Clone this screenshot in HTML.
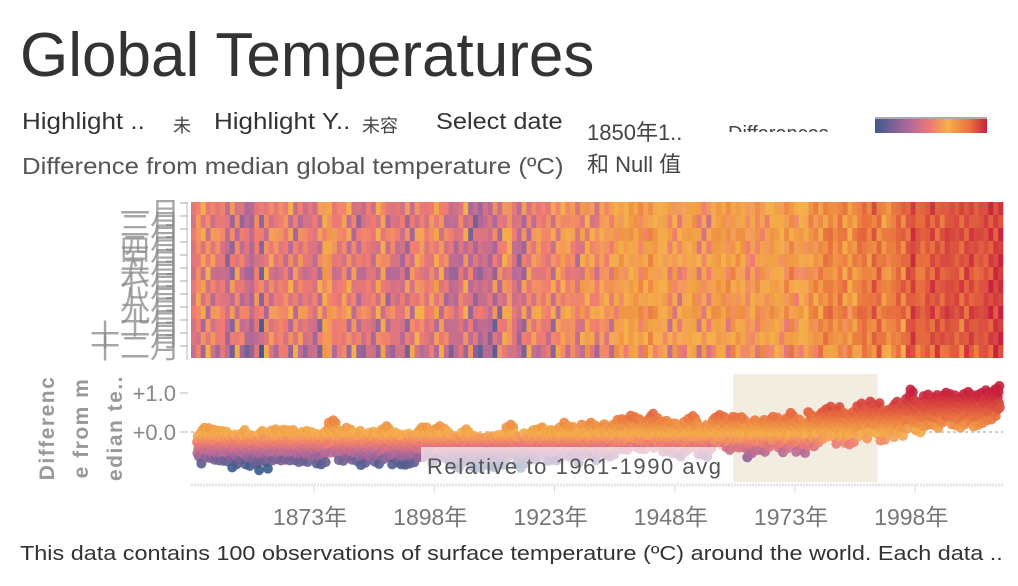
<!DOCTYPE html>
<html><head><meta charset="utf-8">
<style>
body{margin:0;width:1018px;height:586px;background:#fff;overflow:hidden;font-family:"Liberation Sans","Noto Sans CJK SC",sans-serif;position:relative}
.t{position:absolute;white-space:nowrap}
</style></head><body>
<div class="t" style="left:20px;top:20px;font-size:62px;color:#333">Global Temperatures</div>
<div class="t" style="left:22px;top:108px;font-size:23px;color:#333;transform:scaleX(1.13);transform-origin:left">Highlight ..</div>
<div class="t" style="left:173px;top:112px;font-size:18px;color:#444">未</div>
<div class="t" style="left:214px;top:108px;font-size:23px;color:#333;transform:scaleX(1.13);transform-origin:left">Highlight Y..</div>
<div class="t" style="left:362px;top:112px;font-size:18px;color:#444">未容</div>
<div class="t" style="left:436px;top:108px;font-size:23px;color:#333;transform:scaleX(1.1);transform-origin:left">Select date</div>
<div class="t" style="left:587px;top:115px;font-size:22px;color:#444">1850年1..</div>
<div class="t" style="left:587px;top:147px;font-size:22px;color:#444">和 Null 值</div>
<div class="t" style="left:728px;top:124px;height:8px;overflow:hidden;font-size:20px;color:#444"><div style="margin-top:-1px">Differences</div></div>
<div style="position:absolute;left:875px;top:117px;width:112px;height:14px;border-top:2px solid #aaa;background:linear-gradient(90deg,#3b5a8c,#b0689c 30%,#f07b72 50%,#f5b04a 65%,#e8703f 85%,#c8203f)"></div>
<div class="t" style="left:22px;top:153px;font-size:23px;color:#555;transform:scaleX(1.12);transform-origin:left">Difference from median global temperature (ºC)</div>
<svg id="svg" width="1018" height="586" style="position:absolute;left:0;top:0"></svg>
<div class="t" style="left:20px;top:543px;font-size:20px;color:#333;transform:scaleX(1.17);transform-origin:left">This data contains 100 observations of surface temperature (ºC) around the world. Each data ..</div>
<script>
const startYear=1850;
const annual=[-0.37,-0.22,-0.23,-0.27,-0.29,-0.30,-0.32,-0.47,-0.39,-0.28,
-0.39,-0.43,-0.54,-0.30,-0.50,-0.29,-0.26,-0.29,-0.27,-0.29,
-0.28,-0.33,-0.30,-0.33,-0.37,-0.39,-0.33,-0.09,-0.03,-0.28,
-0.30,-0.22,-0.27,-0.30,-0.41,-0.35,-0.32,-0.38,-0.26,-0.18,
-0.39,-0.34,-0.39,-0.40,-0.37,-0.34,-0.21,-0.21,-0.36,-0.25,
-0.18,-0.24,-0.35,-0.43,-0.48,-0.34,-0.26,-0.44,-0.48,-0.48,
-0.44,-0.47,-0.41,-0.40,-0.21,-0.14,-0.39,-0.48,-0.36,-0.28,
-0.26,-0.21,-0.30,-0.28,-0.29,-0.21,-0.09,-0.20,-0.20,-0.35,
-0.14,-0.09,-0.16,-0.29,-0.13,-0.19,-0.14,-0.02,0.00,-0.02,
0.09,0.05,0.00,0.00,0.14,0.03,-0.07,-0.04,-0.11,-0.11,
-0.19,-0.07,0.01,0.08,-0.13,-0.15,-0.20,0.04,0.11,0.06,
-0.02,0.06,0.04,0.05,-0.21,-0.11,-0.03,-0.02,-0.07,0.06,
0.04,-0.08,0.02,0.16,-0.07,-0.01,-0.10,0.18,0.07,0.17,
0.26,0.32,0.14,0.31,0.16,0.12,0.18,0.33,0.40,0.27,
0.45,0.41,0.22,0.24,0.31,0.45,0.34,0.52,0.76,0.48,
0.43,0.59,0.63,0.62,0.54,0.68,0.64,0.61,0.55,0.64,
0.70,0.58,0.62,0.67,0.74,0.76,0.85];
const months=["一月","二月","三月","四月","五月","六月","七月","八月","九月","十月","十一月","十二月"];
const monthOffset=[0.05,-0.08,0.12,-0.03,0.02,-0.12,0.08,-0.05,0.15,-0.1,0.0,-0.2];
const yTicks=[1.0,0.0];
const yTickLabels=["+1.0","+0.0"];
const xTicks=[1873,1898,1923,1948,1973,1998];
const hlStart=1961,hlEnd=1991;

const svg=document.getElementById('svg');const NS='http://www.w3.org/2000/svg';
function mk(t,a,p){const e=document.createElementNS(NS,t);for(const k in a)e.setAttribute(k,a[k]);(p||svg).appendChild(e);return e;}
const xS=y=>310+(y-1873)*4.81;
const yS=v=>432-v*39;
const hx=i=>191+i*812/annual.length;
const stops=[[-0.9,[59,90,140]],[-0.55,[176,104,156]],[-0.3,[240,123,114]],[-0.05,[245,176,74]],[0.4,[232,112,63]],[1.0,[200,32,63]]];
function col(v){if(v<=stops[0][0])return 'rgb('+stops[0][1]+')';for(let i=1;i<stops.length;i++){if(v<=stops[i][0]){const a=stops[i-1],b=stops[i],t=(v-a[0])/(b[0]-a[0]);return 'rgb('+a[1].map((c,j)=>Math.round(c+(b[1][j]-c)*t)).join(',')+')';}}return 'rgb('+stops[stops.length-1][1]+')';}
const hm=mk('g',{});


const cw=812/annual.length;
annual.forEach((a,i)=>{months.forEach((m,j)=>{const v=a+monthOffset[j]*((i%3)-1+0.5)+monthOffset[(j+i)%12];
const r=mk('rect',{x:hx(i),y:202+j*13,width:cw+0.3,height:13,fill:col(v)},hm);

});});
months.forEach((m,j)=>{const t=mk('text',{x:180,y:224+j*12.2,'font-size':30,fill:'#888','text-anchor':'end','fill-opacity':0.75});t.textContent=m;


mk('line',{x1:180,x2:188,y1:203+j*13,y2:203+j*13,stroke:'#aaa'});});
mk('line',{x1:187,x2:187,y1:202,y2:360,stroke:'#bbb'});
const band=mk('rect',{x:xS(hlStart),y:374,width:xS(hlEnd)-xS(hlStart),height:108,fill:'#f3ece0'});


const zl=mk('line',{x1:191,x2:1003,y1:yS(0),y2:yS(0),stroke:'#bbb','stroke-dasharray':'3,3','stroke-width':1.5});


yTicks.forEach((v,i)=>{const t=mk('text',{x:176,y:yS(v)+8,'font-size':22,fill:'#888','text-anchor':'end'});t.textContent=yTickLabels[i];


mk('line',{x1:180,x2:188,y1:yS(v),y2:yS(v),stroke:'#ddd','stroke-width':2});});
const pts=mk('g',{});


annual.forEach((a,i)=>{const yr=startYear+i;months.forEach((m,j)=>{const v=a+monthOffset[(j+i)%12]*2.2;
const c=mk('circle',{cx:xS(yr+j/12-0.5),cy:yS(v),r:5,fill:col(v),opacity:0.9},pts);

});});
mk('rect',{x:421,y:447,width:301,height:36,fill:'#fff','fill-opacity':0.65});
const ann=mk('text',{x:427,y:474,'font-size':22,fill:'#555',textLength:294});ann.textContent='Relative to 1961-1990 avg';


mk('line',{x1:191,x2:1003,y1:485,y2:485,stroke:'#e4e4e4','stroke-width':3,'stroke-dasharray':'2,1'});
xTicks.forEach(y=>{mk('line',{x1:xS(y)+4,x2:xS(y)+4,y1:485,y2:493,stroke:'#ddd'});
const t=mk('text',{x:xS(y),y:525,'font-size':23,fill:'#777','text-anchor':'middle'});t.textContent=y+'年';

});
['Differenc','e from m','edian te..'].forEach((s,i)=>{const t=mk('text',{x:0,y:0,'font-size':21,fill:'#999','font-weight':'bold','letter-spacing':1.5,'text-anchor':'middle',transform:`translate(${54+i*34},428) rotate(-90)`});t.textContent=s;

});
</script>
</body></html>
